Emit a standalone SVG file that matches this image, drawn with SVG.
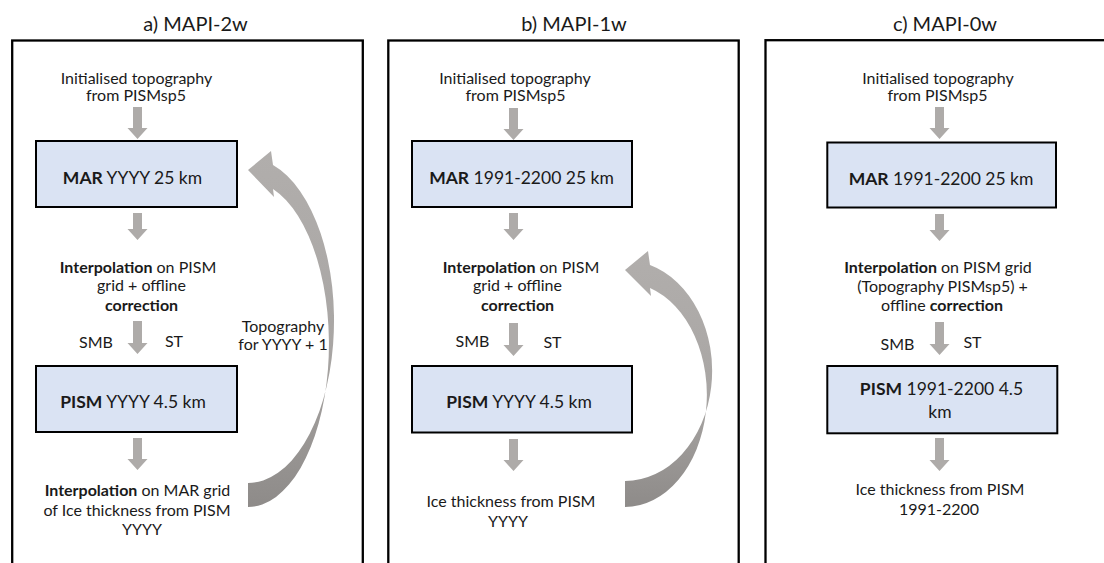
<svg xmlns="http://www.w3.org/2000/svg" width="1104" height="563" viewBox="0 0 1104 563">
<style>
.panel{fill:none;stroke:#000;stroke-width:2.3}
.box{fill:#dae3f3;stroke:#000;stroke-width:2}
.arr{fill:#aeaba9}
.curve{fill:url(#cg)}
text{font-family:Lato,"Open Sans","Liberation Sans",sans-serif;fill:#1a1a1a;text-anchor:middle}
.t{font-size:16px}
.b{font-size:17.5px}
.h{font-size:20px}
.bd{font-weight:bold}
</style>
<defs>
<linearGradient id="cg" x1="0" y1="0" x2="0" y2="1">
<stop offset="0" stop-color="#b1aeac"/>
<stop offset="0.55" stop-color="#a9a6a4"/>
<stop offset="1" stop-color="#8e8b89"/>
</linearGradient>
</defs>
<rect width="1104" height="563" fill="#fff"/>

<g id="panel-a">
<text class="h" x="195.5" y="30.5">a) MAPI-2w</text>
<rect class="panel" x="12.2" y="40.5" width="350.6" height="600"/>
</g>
<g id="panel-b">
<text class="h" x="574" y="30.5">b) MAPI-1w</text>
<rect class="panel" x="388.3" y="40.5" width="350.4" height="600"/>
</g>
<g id="panel-c">
<text class="h" x="945" y="30.5">c) MAPI-0w</text>
<rect class="panel" x="765.5" y="40.2" width="400" height="600"/>
</g>

<!-- Panel a nodes -->
<g id="a-init"><text class="t" x="136.5" y="83.5">Initialised topography</text><text class="t" x="136" y="101">from PISMsp5</text></g>
<g id="a-mar"><rect class="box" x="36" y="141" width="201" height="66"/><text class="b" x="132.5" y="184"><tspan class="bd">MAR</tspan> YYYY 25 km</text></g>
<g id="a-interp"><text class="t" x="138" y="273"><tspan class="bd">Interpolation</tspan> on PISM</text><text class="t" x="141.5" y="291">grid + offline</text><text class="t bd" x="141.5" y="310.5">correction</text></g>
<g id="a-smb"><text class="t" x="96" y="348">SMB</text></g>
<g id="a-st"><text class="t" x="174" y="347">ST</text></g>
<g id="a-pism"><rect class="box" x="36" y="366" width="201" height="66"/><text class="b" x="133" y="407.5"><tspan class="bd">PISM</tspan> YYYY 4.5 km</text></g>
<g id="a-out"><text class="t" x="137.5" y="496"><tspan class="bd">Interpolation</tspan> on MAR grid</text><text class="t" x="137" y="515.5">of Ice thickness from PISM</text><text class="t" x="142" y="535">YYYY</text></g>
<g id="a-topo"><text class="t" x="283" y="332">Topography</text><text class="t" x="283" y="350">for YYYY + 1</text></g>

<!-- Panel b nodes -->
<g id="b-init"><text class="t" x="515" y="83.5">Initialised topography</text><text class="t" x="515.5" y="101">from PISMsp5</text></g>
<g id="b-mar"><rect class="box" x="412" y="141" width="220" height="66"/><text class="b" x="521.5" y="184"><tspan class="bd">MAR</tspan> 1991-2200 25 km</text></g>
<g id="b-interp"><text class="t" x="521" y="273"><tspan class="bd">Interpolation</tspan> on PISM</text><text class="t" x="517.5" y="291">grid + offline</text><text class="t bd" x="517.5" y="310.5">correction</text></g>
<g id="b-smb"><text class="t" x="472.5" y="347">SMB</text></g>
<g id="b-st"><text class="t" x="552.5" y="348">ST</text></g>
<g id="b-pism"><rect class="box" x="412" y="366" width="220" height="66.5"/><text class="b" x="519" y="407.5"><tspan class="bd">PISM</tspan> YYYY 4.5 km</text></g>
<g id="b-out"><text class="t" x="511" y="507">Ice thickness from PISM</text><text class="t" x="508" y="527">YYYY</text></g>

<!-- Panel c nodes -->
<g id="c-init"><text class="t" x="938" y="83.5">Initialised topography</text><text class="t" x="937.5" y="101">from PISMsp5</text></g>
<g id="c-mar"><rect class="box" x="827.3" y="142.5" width="228.7" height="65"/><text class="b" x="941" y="184.5"><tspan class="bd">MAR</tspan> 1991-2200 25 km</text></g>
<g id="c-interp"><text class="t" x="938" y="273"><tspan class="bd">Interpolation</tspan> on PISM grid</text><text class="t" x="942.5" y="291.5">(Topography PISMsp5) +</text><text class="t" x="942" y="310.5">offline <tspan class="bd">correction</tspan></text></g>
<g id="c-smb"><text class="t" x="897.5" y="350">SMB</text></g>
<g id="c-st"><text class="t" x="972.5" y="348">ST</text></g>
<g id="c-pism"><rect class="box" x="827.3" y="366" width="230" height="67.3"/><text class="b" x="941.5" y="395"><tspan class="bd">PISM</tspan> 1991-2200 4.5</text><text class="b" x="940" y="417.5">km</text></g>
<g id="c-out"><text class="t" x="940" y="495">Ice thickness from PISM</text><text class="t" x="939" y="515">1991-2200</text></g>

<g id="connectors">
<path class="arr" d="M133 107 H142 V128 H147.5 L137.5 139 L127.5 128 H133 Z"/>
<path class="arr" d="M133 213 H142 V229 H147.5 L137.5 240 L127.5 229 H133 Z"/>
<path class="arr" d="M133 321 H142 V343 H147.5 L137.5 354 L127.5 343 H133 Z"/>
<path class="arr" d="M133 438 H142 V459 H147.5 L137.5 470 L127.5 459 H133 Z"/>
<path class="curve" d="M248 170 L271 151 L273 165 A86 162.5 0 0 1 248 483 L248 507 A81 163 0 0 0 273 189 L274 197 Z"/>

<path class="arr" d="M509 108 H518 V129 H523.5 L513.5 140 L503.5 129 H509 Z"/>
<path class="arr" d="M509 213 H518 V229 H523.5 L513.5 240 L503.5 229 H509 Z"/>
<path class="arr" d="M509 323 H518 V345 H523.5 L513.5 356 L503.5 345 H509 Z"/>
<path class="arr" d="M509 439 H518 V460 H523.5 L513.5 471 L503.5 460 H509 Z"/>
<path class="curve" d="M625 270 L648 251 L650 265 A87 110.3 0 0 1 625 481 L625 507 A82 112.2 0 0 0 650 288 L651 296 Z"/>

<path class="arr" d="M935 107 H944 V128 H949.5 L939.5 139 L929.5 128 H935 Z"/>
<path class="arr" d="M935 214 H944 V230 H949.5 L939.5 241 L929.5 230 H935 Z"/>
<path class="arr" d="M935 322 H944 V344 H949.5 L939.5 355 L929.5 344 H935 Z"/>
<path class="arr" d="M935 438 H944 V460 H949.5 L939.5 471 L929.5 460 H935 Z"/>
</g>
</svg>
